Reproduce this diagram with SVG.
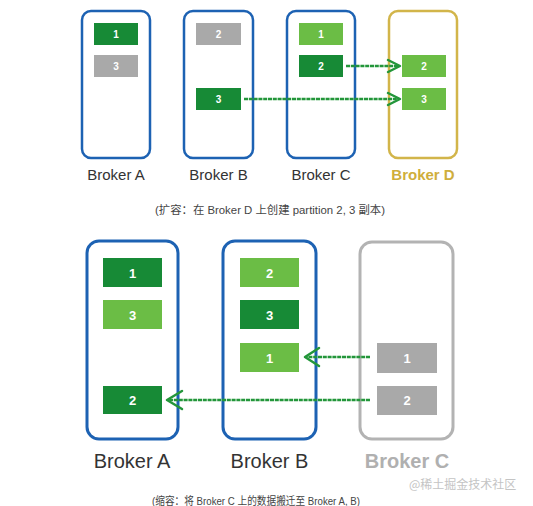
<svg xmlns="http://www.w3.org/2000/svg" width="533" height="506" viewBox="0 0 533 506">
<defs>
<style>
.bx{fill:#fff;stroke:#1d62b3;stroke-width:2.5}
.bxd{fill:#fff;stroke:#d2b54a;stroke-width:2.5}
.bxg{fill:#fff;stroke:#b3b3b3;stroke-width:3}
.dk{fill:#178a36}
.lt{fill:#6bbd45}
.gy{fill:#a9a9a9}
.pn{font-family:"Liberation Sans",Arial,sans-serif;font-weight:bold;fill:#fff;text-anchor:middle}
.lb{font-family:"Liberation Sans",Arial,sans-serif;fill:#333;text-anchor:middle}
.cap{font-family:"Liberation Sans","Noto Sans CJK SC",sans-serif;fill:#444;font-size:11px}
.ln{fill:none;stroke:#23963a;stroke-width:2.5;stroke-dasharray:4 0.8}
.hd{fill:none;stroke:#23963a;stroke-width:2.5;stroke-linecap:round;stroke-linejoin:round}
</style>
</defs>
<rect width="533" height="506" fill="#fff"/>
<g id="top-broker-a">
<rect class="bx" x="82" y="11" width="68" height="147" rx="9"/>
<rect class="dk" x="94" y="23" width="44" height="22"/><text class="pn" x="116" y="38" font-size="10">1</text>
<rect class="gy" x="94" y="55" width="44" height="22"/><text class="pn" x="116" y="70" font-size="10">3</text>
<text class="lb" x="116" y="180" font-size="15">Broker A</text>
</g>
<g id="top-broker-b">
<rect class="bx" x="184" y="11" width="69" height="147" rx="9"/>
<rect class="gy" x="196" y="23" width="45" height="22"/><text class="pn" x="218.5" y="38" font-size="10">2</text>
<rect class="dk" x="196" y="88" width="45" height="22"/><text class="pn" x="218.5" y="103" font-size="10">3</text>
<text class="lb" x="218.5" y="180" font-size="15">Broker B</text>
</g>
<g id="top-broker-c">
<rect class="bx" x="287" y="11" width="68" height="147" rx="9"/>
<rect class="lt" x="299" y="23" width="44" height="22"/><text class="pn" x="321" y="38" font-size="10">1</text>
<rect class="dk" x="299" y="55" width="44" height="22"/><text class="pn" x="321" y="70" font-size="10">2</text>
<text class="lb" x="321" y="180" font-size="15">Broker C</text>
</g>
<g id="top-broker-d">
<rect class="bxd" x="389" y="11" width="68" height="147" rx="9"/>
<rect class="lt" x="402" y="55" width="44" height="22"/><text class="pn" x="424" y="70" font-size="10">2</text>
<rect class="lt" x="402" y="88" width="44" height="22"/><text class="pn" x="424" y="103" font-size="10">3</text>
<text class="lb" x="423" y="180" font-size="15" font-weight="bold" style="fill:#cfae3c">Broker D</text>
</g>
<text id="caption-top" class="cap" x="155" y="214" textLength="230" lengthAdjust="spacingAndGlyphs">(扩容：在 Broker D 上创建 partition 2, 3 副本)</text>
<g id="bottom-broker-a">
<rect class="bx" x="87" y="241" width="91" height="198" rx="12" style="stroke-width:3"/>
<rect class="dk" x="103" y="258" width="59" height="29"/><text class="pn" x="132.5" y="278" font-size="13">1</text>
<rect class="lt" x="103" y="300" width="59" height="29"/><text class="pn" x="132.5" y="320" font-size="13">3</text>
<rect class="dk" x="103" y="386" width="59" height="28"/><text class="pn" x="132.5" y="405" font-size="13">2</text>
<text class="lb" x="132" y="468" font-size="20">Broker A</text>
</g>
<g id="bottom-broker-b">
<rect class="bx" x="223" y="241" width="93" height="198" rx="12" style="stroke-width:3"/>
<rect class="lt" x="240" y="258" width="59" height="29"/><text class="pn" x="269.5" y="278" font-size="13">2</text>
<rect class="dk" x="240" y="300" width="59" height="29"/><text class="pn" x="269.5" y="320" font-size="13">3</text>
<rect class="lt" x="240" y="343" width="59" height="29"/><text class="pn" x="269.5" y="363" font-size="13">1</text>
<text class="lb" x="269.5" y="468" font-size="20">Broker B</text>
</g>
<g id="bottom-broker-c">
<rect class="bxg" x="360" y="242" width="93" height="197" rx="12"/>
<rect class="gy" x="377" y="343" width="60" height="30"/><text class="pn" x="407" y="363" font-size="13">1</text>
<rect class="gy" x="377" y="386" width="60" height="29"/><text class="pn" x="407" y="405" font-size="13">2</text>
<text class="lb" x="407" y="468" font-size="20" font-weight="bold" style="fill:#b0b0b0">Broker C</text>
</g>
<g id="connectors">
<line class="ln" x1="346" y1="66" x2="399" y2="66"/>
<path class="hd" d="M388 60 L400 66 L388 72"/>
<line class="ln" x1="244" y1="99" x2="399" y2="99"/>
<path class="hd" d="M388 93 L400 99 L388 105"/>
<line class="ln" x1="370" y1="357" x2="306" y2="357"/>
<path class="hd" d="M319 348 L305 357 L319 366"/>
<line class="ln" x1="370" y1="400" x2="168" y2="400"/>
<path class="hd" d="M182 391 L167 400 L182 409"/>
</g>
<text id="caption-bottom" class="cap" x="152" y="505" textLength="208" lengthAdjust="spacingAndGlyphs">(缩容：将 Broker C 上的数据搬迁至 Broker A, B)</text>
<text id="watermark" x="409" y="489" font-size="12" fill="#c4c4c4" font-family="'Noto Sans CJK SC',sans-serif">@稀土掘金技术社区</text>
</svg>
